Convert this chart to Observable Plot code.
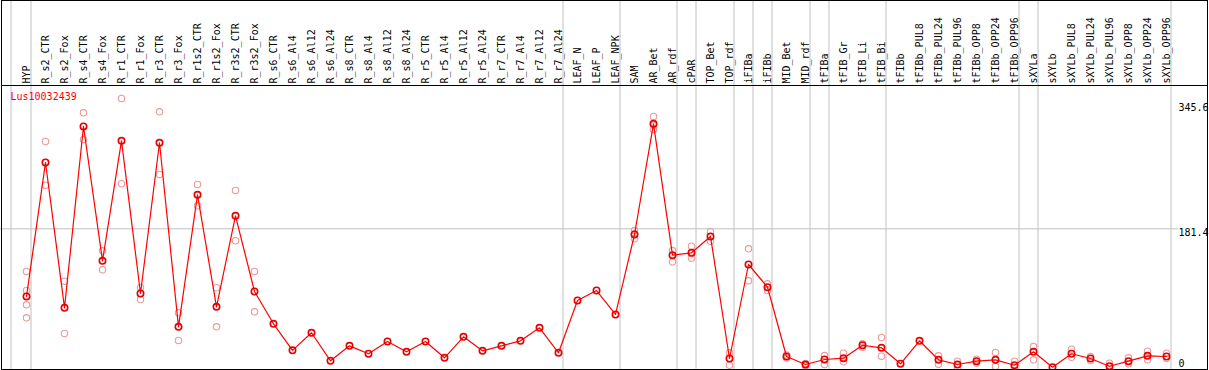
<!DOCTYPE html>
<html><head><meta charset="utf-8">
<script src="https://cdn.jsdelivr.net/npm/d3@7"></script>
<script src="https://cdn.jsdelivr.net/npm/@observablehq/plot@0.6"></script>
<style>
html,body{margin:0;padding:0;background:#fff;}
#wrap{position:relative;width:1209px;height:370px;overflow:hidden;background:#fff;}
#head,#chart{position:absolute;left:0;}
#head{top:0;}
#chart{top:85px;}
#sep{position:absolute;left:1px;top:85px;width:1207px;height:1px;background:#000;}
#box{position:absolute;left:1px;top:0;width:1207px;height:370px;box-sizing:border-box;border:1px solid #000;pointer-events:none;}
</style></head><body>
<div id="wrap"><div id="head"></div><div id="chart"></div><div id="sep"></div><div id="box"></div></div>
<script>
const gene = "Lus10032439";
const names = ["HYP","R_s2_CTR","R_s2_Fox","R_s4_CTR","R_s4_Fox","R_r1_CTR","R_r1_Fox","R_r3_CTR","R_r3_Fox","R_r1s2_CTR","R_r1s2_Fox","R_r3s2_CTR","R_r3s2_Fox","R_s6_CTR","R_s6_Al4","R_s6_Al12","R_s6_Al24","R_s8_CTR","R_s8_Al4","R_s8_Al12","R_s8_Al24","R_r5_CTR","R_r5_Al4","R_r5_Al12","R_r5_Al24","R_r7_CTR","R_r7_Al4","R_r7_Al12","R_r7_Al24","LEAF_N","LEAF_P","LEAF_NPK","SAM","AR_Bet","AR_rdf","cPAR","TOP_Bet","TOP_rdf","iFIBa","iFIBb","MID_Bet","MID_rdf","tFIBa","tFIB_Gr","tFIB_Li","tFIB_Bi","tFIBb","tFIBb_PUL8","tFIBb_PUL24","tFIBb_PUL96","tFIBb_OPP8","tFIBb_OPP24","tFIBb_OPP96","sXYLa","sXYLb","sXYLb_PUL8","sXYLb_PUL24","sXYLb_PUL96","sXYLb_OPP8","sXYLb_OPP24","sXYLb_OPP96"];
const means = [92.7,268.3,77.8,315.5,139.4,296.7,96.6,294.1,52.9,225.9,79.1,198.4,99.2,56.9,22.1,45.1,8.4,28.0,17.6,33.7,20.2,33.7,12.3,39.8,21.5,28.0,34.6,51.6,18.9,87.4,100.5,69.1,173.9,319.0,146.8,149.9,171.3,11.4,134.6,104.8,14.0,3.5,10.1,11.8,28.8,25.4,4.5,34.6,9.7,3.5,7.9,9.7,2.6,20.2,0,17.6,11.4,1.3,7.9,14.9,14.0];
const rep1 = [125.4,295.8,112.7,333.4,152.5,352.2,104.5,334.7,71.3,239.5,104.1,231.6,125.4,null,null,null,null,null,null,null,null,null,null,null,null,null,null,null,null,null,null,null,179.2,328.6,152.9,158.6,177.5,18.9,155.2,109.3,16.0,5.0,15.3,18.3,30.7,38.9,null,null,14.9,7.9,10.5,19.3,7.9,27.1,null,23.6,14.0,5.2,12.3,21.0,18.3];
const rep2 = [64.7,238.5,44.2,298.4,127.6,240.4,88.7,252.6,35.0,211.5,52.9,165.7,72.6,null,null,null,null,null,null,null,null,null,null,null,null,null,null,null,null,null,null,null,168.3,311.5,138.1,142.9,165.1,2.6,113.2,100.5,12.0,2.0,3.5,7.0,26.2,14.4,null,null,3.9,0,5.5,0.9,0,9.7,null,13.1,8.8,0,4.5,9.7,11.4];
const rep3 = [100.5,null,null,null,null,null,null,null,null,null,null,null,null,null,null,null,null,null,null,null,null,null,null,null,null,null,null,null,null,null,null,null,175.0,317.0,null,null,null,null,null,null,null,null,null,null,null,null,null,null,null,null,null,null,null,null,null,null,null,null,null,null,null];
const rep4 = [81.8,null,null,null,null,null,null,null,null,null,null,null,null,null,null,null,null,null,null,null,null,null,null,null,null,null,null,null,null,null,null,null,null,null,null,null,null,null,null,null,null,null,null,null,null,null,null,null,null,null,null,null,null,null,null,null,null,null,null,null,null];
const groupEnds = ["HYP","R_r7_Al24","LEAF_NPK","AR_rdf","cPAR","TOP_rdf","iFIBa","iFIBb","MID_rdf","tFIBa","tFIB_Bi","tFIBb_OPP96","sXYLa","sXYLb_OPP96"];
const yTicks = [181.4, 345.6];
const yZero = [0];

const font = "DejaVu Sans Mono";
const grid = "#c0c0c0";
const xScale = {type: "point", domain: names, range: [26, 1166], padding: 0, axis: null};

const meanData = names.map((n, i) => ({name: n, value: means[i]}));
const repData = names.flatMap((n, i) =>
  [rep1[i], rep2[i], rep3[i], rep4[i]].filter(v => v != null).map(v => ({name: n, value: v})));

const head = Plot.plot({
  width: 1209, height: 85,
  marginTop: 0, marginBottom: 0, marginLeft: 0, marginRight: 0,
  x: xScale,
  marks: [
    Plot.ruleX(groupEnds, {x: d => d, dx: 4.5, stroke: grid}),
    Plot.ruleX(names.slice(0, 1), {x: d => d, dx: -15.5, stroke: grid}),
    Plot.text(names, {x: d => d, text: d => d, frameAnchor: "bottom", dy: -2, rotate: -90,
      textAnchor: "start", lineAnchor: "middle", fontSize: 10, fontFamily: font, fill: "#000"})
  ]
});
document.getElementById("head").appendChild(head);

const chart = Plot.plot({
  width: 1209, height: 285,
  marginTop: 0, marginBottom: 0, marginLeft: 0, marginRight: 31,
  x: xScale,
  y: {domain: [0, 345.6], range: [281.7, 18], axis: null},
  marks: [
    Plot.ruleX(groupEnds, {x: d => d, dx: 4.5, stroke: grid}),
    Plot.ruleX(names.slice(0, 1), {x: d => d, dx: -15.5, stroke: grid}),
    Plot.ruleY([yTicks[0]], {y: d => d, stroke: grid}),
    Plot.axisY(yTicks, {anchor: "right", tickSize: 0, tickPadding: 0, textAnchor: "start", lineAnchor: "top",
      tickFormat: d => String(d), fontSize: 10, fontFamily: font, fill: "#000", label: null}),
    Plot.axisY(yZero, {anchor: "right", tickSize: 0, tickPadding: 0, textAnchor: "start", lineAnchor: "bottom",
      tickFormat: d => String(d), fontSize: 10, fontFamily: font, fill: "#000", label: null}),
    Plot.dot(repData, {x: "name", y: "value", r: 3.2, stroke: "#ec9a9a", strokeWidth: 1.1, fill: "none"}),
    Plot.line(meanData, {x: "name", y: "value", stroke: "#ff0000", strokeWidth: 1.2}),
    Plot.dot(meanData, {x: "name", y: "value", r: 3.2, stroke: "#e60000", strokeWidth: 1.6, fill: "none"}),
    Plot.text([gene], {text: d => d, frameAnchor: "top-left", dx: 10, dy: 7, textAnchor: "start",
      lineAnchor: "top", fill: "#ff0000", fontSize: 10, fontFamily: font})
  ]
});
document.getElementById("chart").appendChild(chart);
</script>
</body></html>
